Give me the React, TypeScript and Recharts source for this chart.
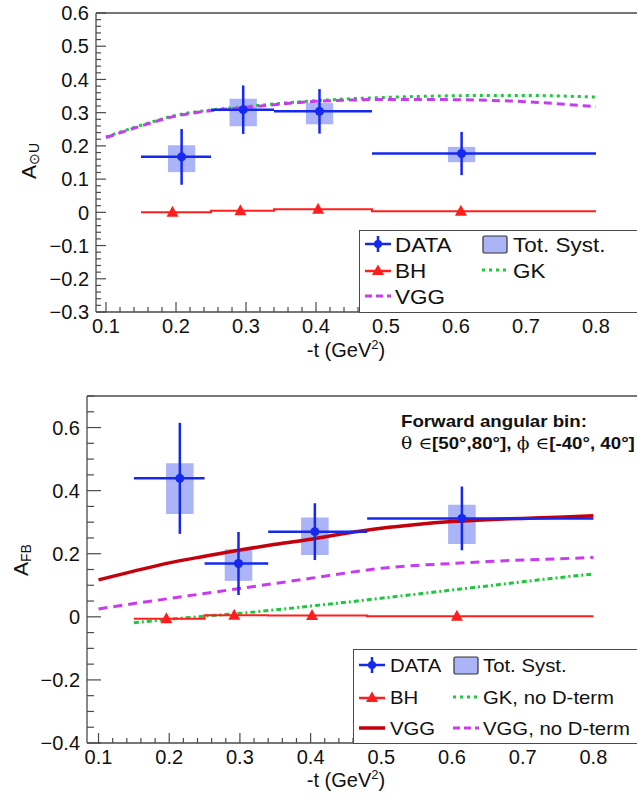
import React from 'react';
import {
  ComposedChart,
  XAxis,
  YAxis,
  Line,
  Scatter,
  ErrorBar,
  ReferenceArea,
  ReferenceLine,
  Legend,
  Label,
} from 'recharts';

const FONT = '"Liberation Sans", Arial, Helvetica, sans-serif';
const FRAME = '#4a4a4a';
const TEXT = '#111';
const BLUE = '#1428f0';
const RED = '#ff1e1e';
const MAGENTA = '#c83cf0';
const GREEN = '#1ec83c';
const DARKRED = '#c4000c';
const SYST_FILL = '#4458ec';
const SYST_HALF = 0.0195;

// ---------------- shared bins ----------------
const binLo = [0.15, 0.25, 0.34, 0.48];
const binHi = [0.25, 0.34, 0.48, 0.8];
const bhEdges = [0.15, 0.25, 0.34, 0.48, 0.8];

// ---------------- top panel: A_{⊙U} ----------------
const topT = [0.208, 0.296, 0.405, 0.608];
const topVal = [0.167, 0.309, 0.304, 0.177];
const topStat = [0.084, 0.073, 0.067, 0.065];
const topSystLo = [0.121, 0.259, 0.265, 0.151];
const topSystHi = [0.202, 0.342, 0.329, 0.197];
const topBhT = [0.195, 0.292, 0.403, 0.607];
const topBhVal = [0.0, 0.005, 0.009, 0.003];
const topCurveT = [0.1, 0.15, 0.2, 0.25, 0.3, 0.35, 0.4, 0.45, 0.5, 0.55, 0.6, 0.65, 0.7, 0.75, 0.8];
const topGK = [0.227, 0.262, 0.292, 0.308, 0.318, 0.328, 0.336, 0.342, 0.346, 0.349, 0.351, 0.352, 0.352, 0.35, 0.347];
const topVGG = [0.225, 0.26, 0.29, 0.306, 0.316, 0.326, 0.334, 0.338, 0.34, 0.34, 0.339, 0.337, 0.333, 0.326, 0.318];

// ---------------- bottom panel: A_FB ----------------
const botT = [0.215, 0.298, 0.406, 0.614];
const botVal = [0.439, 0.169, 0.27, 0.312];
const botStat = [0.176, 0.1, 0.09, 0.101];
const botSystLo = [0.326, 0.114, 0.196, 0.231];
const botSystHi = [0.487, 0.214, 0.315, 0.355];
const botBhT = [0.196, 0.292, 0.402, 0.607];
const botBhVal = [-0.006, 0.005, 0.004, 0.002];
const botCurveT = [0.1, 0.15, 0.2, 0.25, 0.3, 0.35, 0.4, 0.45, 0.5, 0.55, 0.6, 0.65, 0.7, 0.75, 0.8];
const botVGG = [0.117, 0.145, 0.171, 0.192, 0.212, 0.23, 0.246, 0.265, 0.281, 0.293, 0.302, 0.308, 0.312, 0.316, 0.32];
const botVGGnoD = [0.025, 0.042, 0.058, 0.074, 0.09, 0.106, 0.122, 0.139, 0.154, 0.163, 0.169, 0.175, 0.18, 0.184, 0.188];
const botGKT = [0.15, 0.2, 0.25, 0.3, 0.35, 0.4, 0.45, 0.5, 0.55, 0.6, 0.65, 0.7, 0.75, 0.8];
const botGKnoD = [-0.019, -0.008, 0.002, 0.011, 0.022, 0.034, 0.046, 0.059, 0.072, 0.085, 0.098, 0.111, 0.124, 0.136];

// ---------------- ticks ----------------
const xMajorLabels = ['0.1', '0.2', '0.3', '0.4', '0.5', '0.6', '0.7', '0.8'];
const topYMajorLabels = ['−0.3', '−0.2', '−0.1', '0', '0.1', '0.2', '0.3', '0.4', '0.5', '0.6'];
const botYMajorLabels = ['−0.4', '−0.2', '0', '0.2', '0.4', '0.6'];

const range = (a: number, b: number, step: number) => {
  const n = Math.round((b - a) / step);
  const out: number[] = [];
  for (let i = 0; i <= n; i++) out.push(+(a + i * step).toFixed(4));
  return out;
};
const xTicks = range(0.1, 0.86, 0.02);
const topYTicks = range(-0.3, 0.6, 0.02);
const botYTicks = range(-0.4, 0.7, 0.05);

const labelFor = (labels: string[], v: number) => {
  const s = Math.abs(v) < 1e-9 ? '0' : (v < 0 ? '−' : '') + Math.abs(v).toFixed(1);
  return labels.includes(s) ? s : null;
};

// ---------------- rows ----------------
const dataRows = (t: number[], v: number[], stat: number[]) =>
  t.map((x, i) => ({ t: x, v: v[i], ex: [x - binLo[i], binHi[i] - x], ey: stat[i] }));
const curveRows = (t: number[], v: number[]) => t.map((x, i) => ({ t: x, v: v[i] }));
const stepRows = (vals: number[]) =>
  bhEdges.map((e, i) => ({ t: e, v: vals[Math.min(i, vals.length - 1)] }));

const isMajor = (v: number, step: number) => Math.abs(v / step - Math.round(v / step)) < 1e-6;

const makeYTick = (labels: string[], step: number, majorLen: number, minorLen: number) => (props: any) => {
  const { x, y, payload } = props;
  const v = payload.value as number;
  const major = isMajor(v, step);
  const lab = major ? labelFor(labels, v) : null;
  return (
    <g>
      <line x1={x} x2={x + (major ? majorLen : minorLen)} y1={y} y2={y} stroke={FRAME} strokeWidth={1.2} />
      {lab && (
        <text x={x - 7} y={y} dy="0.36em" textAnchor="end" fontSize={20} fill={TEXT} fontFamily={FONT}>
          {lab}
        </text>
      )}
    </g>
  );
};

const makeXTick = (labels: string[]) => (props: any) => {
  const { x, y, payload } = props;
  const v = payload.value as number;
  const major = isMajor(v, 0.1);
  const lab = major ? labelFor(labels, v) : null;
  return (
    <g>
      <line x1={x} x2={x} y1={y} y2={y - (major ? 10 : 5)} stroke={FRAME} strokeWidth={1.2} />
      {lab && (
        <text x={x} y={y + 21} textAnchor="middle" fontSize={20} fill={TEXT} fontFamily={FONT}>
          {lab}
        </text>
      )}
    </g>
  );
};

const circleShape = (props: any) => <circle cx={props.cx} cy={props.cy} r={4.5} fill={BLUE} />;
const triangleShape = (props: any) => {
  const { cx, cy } = props;
  return <polygon points={`${cx},${cy - 6.5} ${cx - 6},${cy + 4.5} ${cx + 6},${cy + 4.5}`} fill={RED} />;
};

// ---------------- legend ----------------
const IconData = () => (
  <g>
    <line x1={1} x2={27} y1={10} y2={10} stroke={BLUE} strokeWidth={2.5} />
    <line x1={14} x2={14} y1={2} y2={18} stroke={BLUE} strokeWidth={2.5} />
    <circle cx={14} cy={10} r={4} fill={BLUE} />
  </g>
);
const IconSyst = () => (
  <rect x={2} y={2} width={24} height={17} fill={SYST_FILL} fillOpacity={0.45} stroke="#333" strokeWidth={1.2} rx={1.5} />
);
const IconBH = () => (
  <g>
    <line x1={1} x2={27} y1={11} y2={11} stroke={RED} strokeWidth={2.5} />
    <polygon points="14,4.5 8,15 20,15" fill={RED} />
  </g>
);
const IconLine = ({ color, dash, w }: { color: string; dash?: string; w?: number }) => (
  <line x1={1} x2={27} y1={10} y2={10} stroke={color} strokeWidth={w ?? 3} strokeDasharray={dash} />
);

type LegItem = { label: string; icon: React.ReactNode; x: number; y: number; tx: number };

const LegendBox = ({ items, width, height, fontSize }: { items: LegItem[]; width: number; height: number; fontSize: number }) => (
  <div
    style={{
      position: 'relative',
      width,
      height,
      border: `1.3px solid ${FRAME}`,
      background: '#fff',
      boxSizing: 'border-box',
      fontFamily: FONT,
      fontSize,
      color: TEXT,
    }}
  >
    {items.map((it) => (
      <React.Fragment key={it.label}>
        <svg style={{ position: 'absolute', left: it.x, top: it.y - 10 }} width={28} height={21}>
          {it.icon}
        </svg>
        <div
          style={{
            position: 'absolute',
            left: it.tx,
            top: it.y,
            transform: 'translateY(-50%) scaleX(1.07)',
            transformOrigin: 'left center',
            lineHeight: 1,
            whiteSpace: 'nowrap',
          }}
        >
          {it.label}
        </div>
      </React.Fragment>
    ))}
  </div>
);

const topLegendItems: LegItem[] = [
  { label: 'DATA', icon: <IconData />, x: 4, y: 13, tx: 35 },
  { label: 'Tot. Syst.', icon: <IconSyst />, x: 121, y: 13, tx: 153 },
  { label: 'BH', icon: <IconBH />, x: 4, y: 39, tx: 35 },
  { label: 'GK', icon: <IconLine color={GREEN} dash="3 4" />, x: 121, y: 39, tx: 153 },
  { label: 'VGG', icon: <IconLine color={MAGENTA} dash="7 4" />, x: 4, y: 65, tx: 35 },
];

const botLegendItems: LegItem[] = [
  { label: 'DATA', icon: <IconData />, x: 4, y: 15, tx: 36 },
  { label: 'Tot. Syst.', icon: <IconSyst />, x: 98, y: 15, tx: 129 },
  { label: 'BH', icon: <IconBH />, x: 4, y: 47, tx: 36 },
  { label: 'GK, no D-term', icon: <IconLine color={GREEN} dash="3 4" />, x: 98, y: 47, tx: 129 },
  { label: 'VGG', icon: <IconLine color={DARKRED} w={3.5} />, x: 4, y: 78, tx: 36 },
  { label: 'VGG, no D-term', icon: <IconLine color={MAGENTA} dash="7 4" />, x: 98, y: 78, tx: 129 },
];

// ---------------- titles ----------------
const XTitle = (dx: number, dy: number) => (props: any) => {
  const vb = props.viewBox || { x: 0, y: 0 };
  return (
    <text x={vb.x + dx} y={vb.y + dy} textAnchor="middle" fontSize={20} fill={TEXT} fontFamily={FONT}>
      -t (GeV
      <tspan fontSize={13} dy={-8}>2</tspan>
      <tspan dy={8}>)</tspan>
    </text>
  );
};

// y-axis title reading bottom-to-top: vertical writing mode flipped by a point reflection
const YTitle = ({ cx, cy, sub }: { cx: number; cy: number; sub: string }) => (
  <div
    style={{
      position: 'absolute',
      left: cx - 13,
      top: cy - 40,
      width: 26,
      height: 80,
      lineHeight: '26px',
      writingMode: 'vertical-rl',
      textAlign: 'center',
      fontFamily: FONT,
      fontSize: 21,
      color: TEXT,
      whiteSpace: 'nowrap',
      transform: 'scale(-1, -1)',
      transformOrigin: '50% 50%',
    }}
  >
    A<span style={{ fontSize: 14, verticalAlign: 'sub' }}>{sub}</span>
  </div>
);

// ---------------- panels ----------------
type Curve = { key: string; rows: { t: number; v: number }[]; color: string; dash?: string; width: number };

type PanelProps = {
  height: number;
  top: number;
  yWidth: number;
  xHeight: number;
  xDomain: [number, number];
  yDomain: [number, number];
  yTicks: number[];
  yLabels: string[];
  yStep: number;
  yMajorLen: number;
  yMinorLen: number;
  t: number[];
  val: number[];
  stat: number[];
  systLo: number[];
  systHi: number[];
  bhT: number[];
  bhVal: number[];
  curves: Curve[];
  xTitle: (p: any) => React.ReactElement;
  legend: React.ReactElement;
  legendPos: { left: number; top: number; width: number; height: number };
};

function Panel(p: PanelProps) {
  const rows = dataRows(p.t, p.val, p.stat);
  return (
    <ComposedChart width={660} height={p.height} margin={{ top: p.top, right: 8, left: 0, bottom: 0 }}>
      <XAxis
        type="number"
        dataKey="t"
        domain={p.xDomain}
        allowDataOverflow
        ticks={xTicks}
        interval={0}
        tickSize={0}
        tickMargin={0}
        tickLine={false}
        axisLine={{ stroke: FRAME, strokeWidth: 1.3 }}
        tick={makeXTick(xMajorLabels)}
        height={p.xHeight}
      >
        <Label content={p.xTitle} />
      </XAxis>
      <YAxis
        type="number"
        dataKey="v"
        domain={p.yDomain}
        allowDataOverflow
        ticks={p.yTicks}
        interval={0}
        tickSize={0}
        tickMargin={0}
        tickLine={false}
        axisLine={{ stroke: FRAME, strokeWidth: 1.3 }}
        tick={makeYTick(p.yLabels, p.yStep, p.yMajorLen, p.yMinorLen)}
        width={p.yWidth}
      />
      <ReferenceLine y={p.yDomain[1]} stroke={FRAME} strokeWidth={1.3} />
      {p.t.map((t, i) => (
        <ReferenceArea
          key={`syst${i}`}
          x1={t - SYST_HALF}
          x2={t + SYST_HALF}
          y1={p.systLo[i]}
          y2={p.systHi[i]}
          fill={SYST_FILL}
          fillOpacity={0.45}
          stroke="none"
        />
      ))}
      {p.curves.map((c) => (
        <Line
          key={c.key}
          data={c.rows}
          dataKey="v"
          type="monotone"
          stroke={c.color}
          strokeWidth={c.width}
          strokeDasharray={c.dash}
          dot={false}
          activeDot={false}
          isAnimationActive={false}
        />
      ))}
      <Line
        data={stepRows(p.bhVal)}
        dataKey="v"
        type="stepAfter"
        stroke={RED}
        strokeWidth={2}
        dot={false}
        activeDot={false}
        isAnimationActive={false}
      />
      <Scatter data={curveRows(p.bhT, p.bhVal)} shape={triangleShape} isAnimationActive={false} />
      <Scatter data={rows} shape={circleShape} isAnimationActive={false}>
        <ErrorBar dataKey="ex" direction="x" width={0} stroke={BLUE} strokeWidth={2.5} isAnimationActive={false} />
        <ErrorBar dataKey="ey" direction="y" width={0} stroke={BLUE} strokeWidth={2.5} isAnimationActive={false} />
      </Scatter>
      <Legend
        layout="vertical"
        align="center"
        verticalAlign="middle"
        wrapperStyle={{ ...p.legendPos, position: 'absolute' }}
        content={() => p.legend}
      />
    </ComposedChart>
  );
}

const annotStyle: React.CSSProperties = {
  position: 'absolute',
  left: 401,
  fontFamily: FONT,
  fontSize: 17,
  fontWeight: 'bold',
  color: TEXT,
  lineHeight: '17px',
  whiteSpace: 'nowrap',
  transform: 'scaleX(1.1)',
  transformOrigin: 'left center',
};

export default function App() {
  return (
    <div
      style={{
        position: 'absolute',
        left: 0,
        top: 0,
        width: 637,
        height: 804,
        overflow: 'hidden',
        background: '#fff',
      }}
    >
      <div style={{ position: 'absolute', left: 0, top: 0 }}>
        <Panel
          height={380}
          top={13}
          yWidth={96}
          xHeight={68}
          xDomain={[0.0857, 0.88]}
          yDomain={[-0.3, 0.6]}
          yTicks={topYTicks}
          yLabels={topYMajorLabels}
          yStep={0.1}
          yMajorLen={10}
          yMinorLen={5}
          t={topT}
          val={topVal}
          stat={topStat}
          systLo={topSystLo}
          systHi={topSystHi}
          bhT={topBhT}
          bhVal={topBhVal}
          curves={[
            { key: 'gk', rows: curveRows(topCurveT, topGK), color: GREEN, dash: '3 4', width: 3 },
            { key: 'vgg', rows: curveRows(topCurveT, topVGG), color: MAGENTA, dash: '8 5', width: 3 },
          ]}
          xTitle={XTitle(250, 45)}
          legend={<LegendBox items={topLegendItems} width={300} height={83} fontSize={21} />}
          legendPos={{ left: 359, top: 230, width: 300, height: 83 }}
        />
        <YTitle cx={29} cy={161} sub="⊙U" />
      </div>
      <div style={{ position: 'absolute', left: 0, top: 380 }}>
        <Panel
          height={424}
          top={16}
          yWidth={87}
          xHeight={61}
          xDomain={[0.0837, 0.8829]}
          yDomain={[-0.4, 0.7]}
          yTicks={botYTicks}
          yLabels={botYMajorLabels}
          yStep={0.2}
          yMajorLen={14}
          yMinorLen={7}
          t={botT}
          val={botVal}
          stat={botStat}
          systLo={botSystLo}
          systHi={botSystHi}
          bhT={botBhT}
          bhVal={botBhVal}
          curves={[
            { key: 'gknod', rows: curveRows(botGKT, botGKnoD), color: GREEN, dash: '5 3 2 3', width: 3 },
            { key: 'vggnod', rows: curveRows(botCurveT, botVGGnoD), color: MAGENTA, dash: '9 6', width: 3 },
            { key: 'vgg', rows: curveRows(botCurveT, botVGG), color: DARKRED, width: 3.5 },
          ]}
          xTitle={XTitle(259, 44)}
          legend={<LegendBox items={botLegendItems} width={300} height={95} fontSize={19} />}
          legendPos={{ left: 353, top: 269, width: 300, height: 95 }}
        />
        <YTitle cx={21} cy={180} sub="FB" />
        <div style={{ ...annotStyle, top: 33 }}>Forward angular bin:</div>
        <div style={{ ...annotStyle, top: 55 }}>
          <span style={{ fontFamily: '"DejaVu Serif", serif', fontWeight: 'normal' }}>θ ∈</span>[50°,80°],{' '}
          <span style={{ fontFamily: '"DejaVu Serif", serif', fontWeight: 'normal' }}>ϕ ∈</span>[-40°, 40°]
        </div>
      </div>
    </div>
  );
}
